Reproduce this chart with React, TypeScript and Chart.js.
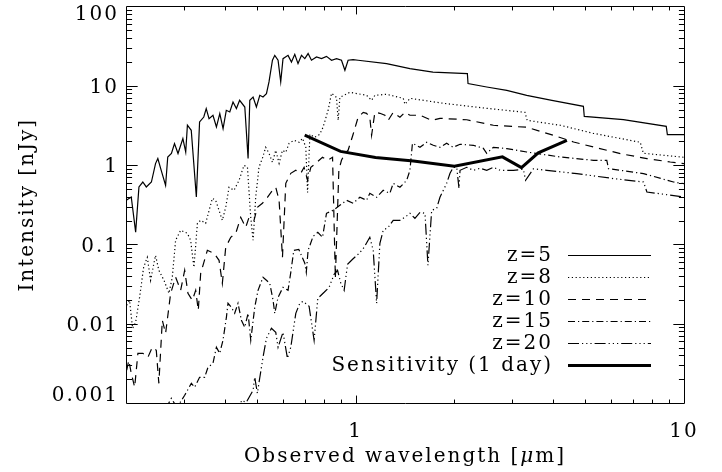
import React, { useEffect, useRef } from "react";
import { Chart, registerables } from "chart.js";

Chart.register(...registerables);

// ---------------- data (wavelength in micron, intensity in nJy) ----------------
const z5Wavelength = [0.2004,0.2075,0.214,0.219,0.225,0.2306,0.239,0.246,0.250,0.256,0.264,0.268,0.275,0.281,0.288,0.298,0.304,0.3076,0.316,0.3275,0.335,0.345,0.351,0.358,0.368,0.377,0.386,0.395,0.404,0.414,0.4235,0.4337,0.4436,0.46,0.4707,0.4764,0.4875,0.499,0.511,0.5226,0.5354,0.545,0.5584,0.5675,0.5808,0.5917,0.6013,0.6229,0.638,0.653,0.668,0.6845,0.7006,0.717,0.734,0.7605,0.7876,0.8156,0.845,0.875,0.906,0.928,0.949,0.983,1.018,1.243,1.464,1.72,2.19,2.2,2.508,2.887,3.32,3.96,4.94,4.97,6.54,8.83,8.9,10];
const z5Intensity = [0.36,0.396,0.143,0.53,0.612,0.53,0.612,1.045,1.21,0.86,0.556,1.265,1.40,1.87,1.40,2.16,1.46,3.18,2.75,0.396,3.50,4.04,5.16,3.86,4.25,3.02,4.46,2.89,4.91,4.67,6.25,5.16,6.56,5.4,1.21,6.56,7.22,5.4,7.59,7.22,7.97,11.2,21.0,24.2,21.0,11.2,22.0,24.2,19.95,24.96,19.05,24.2,22.0,25.5,21.0,23.1,22.0,23.5,21.0,22.0,21.0,15.7,21.0,21.4,21.0,19.05,16.5,14.9,14.25,10.66,9.66,8.77,7.59,6.56,5.51,4.12,3.75,3.08,2.42,2.42];

const z8Wavelength = [0.201,0.205,0.2095,0.214,0.220,0.2263,0.2322,0.2376,0.246,0.2518,0.261,0.2703,0.2767,0.2832,0.2934,0.3076,0.3146,0.322,0.33,0.3376,0.3496,0.3664,0.375,0.393,0.4024,0.4118,0.4266,0.4418,0.4574,0.4686,0.4795,0.4875,0.4966,0.508,0.5204,0.5325,0.545,0.5583,0.5715,0.585,0.599,0.6131,0.6274,0.65,0.673,0.6895,0.7056,0.7142,0.726,0.751,0.778,0.796,0.825,0.845,0.875,0.885,0.896,0.961,1.080,1.119,1.145,1.243,1.397,1.414,1.464,1.846,2.51,3.28,3.33,4.20,5.29,7.36,7.52,10];
const z8Intensity = [0.0171,0.0197,0.00875,0.0104,0.0215,0.0514,0.0687,0.0353,0.0729,0.0471,0.0353,0.0242,0.0385,0.1127,0.1507,0.138,0.1127,0.0514,0.1846,0.2014,0.1846,0.3814,0.360,0.2014,0.2937,0.525,0.481,0.643,0.994,0.938,0.2196,0.1127,0.3926,0.938,1.218,1.677,1.409,1.085,1.537,1.054,1.537,1.45,1.883,2.054,1.939,2.178,1.677,0.45,2.445,2.242,2.445,2.997,4.91,8.04,7.16,3.67,7.16,8.28,7.59,6.56,7.59,7.81,6.95,5.84,6.95,6.02,5.2,4.63,3.67,3.18,2.518,1.94,1.41,1.254];

const z10Wavelength = [0.201,0.204,0.2075,0.2125,0.2174,0.225,0.2332,0.2405,0.2473,0.2518,0.258,0.264,0.2735,0.2832,0.2934,0.3018,0.3088,0.3185,0.326,0.332,0.3376,0.3538,0.3707,0.384,0.393,0.4024,0.4168,0.4318,0.4471,0.4629,0.474,0.4907,0.5024,0.5204,0.539,0.5583,0.5715,0.585,0.599,0.6131,0.635,0.6577,0.681,0.697,0.7142,0.7307,0.7568,0.7931,0.8214,0.851,0.868,0.8894,0.906,0.928,0.949,0.981,1.018,1.055,1.080,1.105,1.119,1.145,1.186,1.228,1.257,1.302,1.365,1.413,1.464,1.571,1.705,1.807,2.18,2.628,3.32,4.005,4.61,5.30,6.4,7.71,9.08,10];
const z10Intensity = [0.00259,0.00346,0.00237,0.00158,0.00423,0.00423,0.00377,0.00504,0.00462,0.00177,0.01104,0.00757,0.02417,0.0385,0.02637,0.0471,0.02417,0.01973,0.02637,0.01476,0.0432,0.0842,0.0772,0.063,0.0323,0.0919,0.1229,0.138,0.2197,0.1643,0.2197,0.2014,0.2937,0.33,0.3926,0.481,0.525,0.36,0.0687,0.5895,0.788,0.86,0.788,0.938,0.643,0.938,1.054,1.254,1.15,1.254,0.0374,0.86,1.15,1.409,1.537,2.376,4.01,4.63,4.50,4.01,2.376,4.63,4.50,4.25,3.67,4.63,4.01,4.63,4.25,4.25,3.67,3.89,3.73,3.18,3.0,2.376,1.956,1.691,1.396,1.208,1.094,1.044];

const z15Wavelength = [0.2531,0.2748,0.2832,0.2913,0.3018,0.3162,0.3236,0.335,0.3471,0.3553,0.368,0.3769,0.3858,0.3948,0.4043,0.4089,0.4188,0.4285,0.4386,0.4492,0.4598,0.4707,0.4796,0.4932,0.5047,0.5226,0.5353,0.548,0.5608,0.5675,0.5808,0.6013,0.6229,0.635,0.6486,0.6716,0.7006,0.7079,0.717,0.7425,0.7674,0.7931,0.8156,0.8546,0.8956,0.9388,0.9833,1.0307,1.080,1.105,1.159,1.214,1.272,1.302,1.365,1.431,1.464,1.490,1.571,1.646,1.724,1.807,1.894,1.984,2.08,2.284,2.449,2.508,2.628,2.887,3.32,4.20,5.30,5.82,5.89,7.53,9.29,10];
const z15Intensity = [0.000605,0.001146,0.000935,0.000992,0.00125,0.00177,0.00158,0.00211,0.00211,0.00282,0.00317,0.00504,0.00423,0.00618,0.01204,0.01809,0.0161,0.01352,0.01809,0.01104,0.009,0.01352,0.00618,0.0161,0.02637,0.0385,0.03526,0.0323,0.01973,0.01352,0.02153,0.02877,0.02637,0.0445,0.0842,0.0867,0.0578,0.0445,0.0842,0.1265,0.142,0.1229,0.2466,0.2692,0.3112,0.36,0.33,0.3926,0.36,0.441,0.3926,0.481,0.441,0.5895,0.525,0.643,0.86,1.883,1.677,1.939,1.777,1.677,1.883,1.677,1.829,1.777,1.629,1.409,1.677,1.615,1.463,1.265,1.15,1.15,0.903,0.781,0.612,0.584];

const z20Wavelength = [0.4408,0.4492,0.465,0.4875,0.4932,0.5024,0.5106,0.5226,0.5353,0.5544,0.5715,0.5808,0.6013,0.6203,0.635,0.6577,0.6764,0.6921,0.7219,0.7478,0.7674,0.8023,0.8307,0.8605,0.8813,0.9019,0.9231,0.9453,0.9792,1.0256,1.0622,1.105,1.1316,1.159,1.186,1.214,1.257,1.302,1.365,1.413,1.464,1.516,1.571,1.627,1.661,1.705,1.766,1.807,1.85,1.894,1.939,1.984,2.032,2.065,2.08,2.18,2.284,2.393,2.508,2.628,2.754,3.023,3.243,3.294,3.479,3.822,4.72,6.10,7.53,7.71,10];
const z20Intensity = [0.000605,0.00108,0.00102,0.00145,0.00211,0.001326,0.00205,0.00377,0.00654,0.00875,0.00779,0.00504,0.00779,0.00366,0.00504,0.01352,0.01809,0.01916,0.01658,0.00618,0.0209,0.02489,0.02877,0.04198,0.0471,0.0323,0.02637,0.0561,0.0649,0.0772,0.0919,0.1229,0.0842,0.01809,0.1032,0.1507,0.1643,0.2014,0.2014,0.2197,0.2466,0.2134,0.254,0.2466,0.0545,0.2692,0.2852,0.3926,0.481,0.5895,0.788,0.938,0.938,0.51,0.86,0.938,0.86,0.911,0.86,0.938,0.86,0.86,0.885,0.643,0.898,0.86,0.781,0.676,0.612,0.458,0.396];

const sensitivityWavelength = [0.7, 0.9, 1.15, 1.5, 2.0, 2.8, 3.2, 3.6, 4.4];
const sensitivityIntensity = [2.38, 1.49, 1.25, 1.13, 0.97, 1.27, 0.93, 1.43, 2.05];

const seriesLabels = ["z=5", "z=8", "z=10", "z=15", "z=20", "Sensitivity (1 day)"];

const xTickValues = [1, 10];
const xTickLabels = ["1", "10"];
const yTickValues = [0.001, 0.01, 0.1, 1, 10, 100];
const yTickLabels = ["0.001", "0.01", "0.1", "1", "10", "100"];

const xAxisTitleParts = ["Observed wavelength [", "\u03bc", "m]"];
const yAxisTitle = "Intensity [nJy]";

// ---------------- styling ----------------
const FONT = '"DejaVu Serif", "Liberation Serif", serif';

function zip(xs: number[], ys: number[]) {
  const n = Math.min(xs.length, ys.length);
  const out: { x: number; y: number }[] = [];
  for (let i = 0; i < n; i++) out.push({ x: xs[i], y: ys[i] });
  return out;
}

const seriesDefs = [
  { xs: z5Wavelength, ys: z5Intensity, dash: [] as number[], width: 1.2 },
  { xs: z8Wavelength, ys: z8Intensity, dash: [1.2, 2.6], width: 1.2 },
  { xs: z10Wavelength, ys: z10Intensity, dash: [8, 6], width: 1.2 },
  { xs: z15Wavelength, ys: z15Intensity, dash: [7, 3, 1.2, 3], width: 1.2 },
  { xs: z20Wavelength, ys: z20Intensity, dash: [11, 3, 1.2, 3, 1.2, 3, 1.2, 3], width: 1.2 },
  { xs: sensitivityWavelength, ys: sensitivityIntensity, dash: [] as number[], width: 3 },
];

const decorPlugin = {
  id: "decor",
  beforeDraw(chart: any) {
    const ctx = chart.ctx;
    ctx.save();
    ctx.fillStyle = "#ffffff";
    ctx.fillRect(0, 0, chart.width, chart.height);
    ctx.restore();
    (ctx as any).letterSpacing = "2px";
  },
  afterDraw(chart: any) {
    const ctx = chart.ctx;
    const a = chart.chartArea;
    const xs = chart.scales.x;
    const ys = chart.scales.y;
    const L = Math.floor(a.left) + 0.5;
    const R = Math.floor(a.right) + 0.5;
    const T = Math.floor(a.top) + 0.5;
    const B = Math.floor(a.bottom) + 0.5;
    const W = a.right - a.left;
    const H = a.bottom - a.top;
    ctx.save();
    (ctx as any).letterSpacing = "2px";
    ctx.setLineDash([]);
    ctx.strokeStyle = "#000";
    ctx.lineWidth = 1;
    ctx.beginPath();
    ctx.rect(L, T, R - L, B - T);
    ctx.stroke();

    // tick marks on all four sides (pointing inwards)
    ctx.beginPath();
    for (let d = -1; d <= 0; d++) {
      for (let m = 1; m <= 9; m++) {
        const v = m * Math.pow(10, d);
        if (v <= 0.2 + 1e-9 || v >= 10 - 1e-9) continue;
        const px = Math.round(xs.getPixelForValue(v)) + 0.5;
        const len = m === 1 ? 0.02 * H : 0.01 * H;
        ctx.moveTo(px, B);
        ctx.lineTo(px, B - len);
        ctx.moveTo(px, T);
        ctx.lineTo(px, T + len);
      }
    }
    for (let d = -3; d <= 1; d++) {
      for (let m = 1; m <= 9; m++) {
        const v = m * Math.pow(10, d);
        if (v <= 0.001 * 1.0001 || v >= 100 * 0.9999) continue;
        const py = Math.round(ys.getPixelForValue(v)) + 0.5;
        const len = m === 1 ? 0.02 * W : 0.01 * W;
        ctx.moveTo(L, py);
        ctx.lineTo(L + len, py);
        ctx.moveTo(R, py);
        ctx.lineTo(R - len, py);
      }
    }
    ctx.stroke();

    // y tick labels (kept inside the axis extent at the ends)
    ctx.fillStyle = "#000";
    ctx.font = `20px ${FONT}`;
    ctx.textAlign = "right";
    ctx.textBaseline = "middle";
    yTickValues.forEach((v, i) => {
      const p = ys.getPixelForValue(v);
      const y = Math.min(Math.max(p + 2, a.top + 8.5), a.bottom - 7);
      ctx.fillText(yTickLabels[i], a.left - 7, y);
    });

    // x axis title with italic mu
    const styles = ["", "italic ", ""];
    const widths = xAxisTitleParts.map((t, i) => {
      ctx.font = `${styles[i]}20px ${FONT}`;
      return ctx.measureText(t).width;
    });
    const total = widths.reduce((s, w) => s + w, 0);
    let cx = (a.left + a.right) / 2 - total / 2;
    ctx.textAlign = "left";
    xAxisTitleParts.forEach((t, i) => {
      ctx.font = `${styles[i]}20px ${FONT}`;
      ctx.fillText(t, cx, 457);
      cx += widths[i];
    });

    // legend (text right-aligned, sample line on the right)
    ctx.font = `20px ${FONT}`;
    ctx.textAlign = "right";
    chart.data.datasets.forEach((ds: any, i: number) => {
      const y = 255 + 22 * i;
      ctx.fillText(ds.label, 553, y + 1);
      ctx.save();
      ctx.setLineDash(ds.borderDash || []);
      ctx.lineWidth = ds.borderWidth;
      ctx.beginPath();
      ctx.moveTo(568, y + 0.5);
      ctx.lineTo(651, y + 0.5);
      ctx.stroke();
      ctx.restore();
    });
    ctx.restore();
  },
};

export default function App() {
  const ref = useRef<HTMLCanvasElement | null>(null);
  useEffect(() => {
    const canvas = ref.current;
    if (!canvas) return;
    const datasets = seriesDefs.map((s, i) => ({
      label: seriesLabels[i],
      data: zip(s.xs, s.ys),
      borderColor: "#000",
      backgroundColor: "#000",
      borderWidth: s.width,
      borderDash: s.dash,
      pointRadius: 0,
      fill: false,
      tension: 0,
    }));
    const chart = new Chart(canvas, {
      type: "line",
      data: { datasets },
      options: {
        animation: false,
        responsive: false,
        maintainAspectRatio: false,
        devicePixelRatio: 1,
        events: [],
        layout: { padding: { left: 0, right: 38, top: 6.5, bottom: 0 } },
        plugins: { legend: { display: false }, tooltip: { enabled: false }, title: { display: false } },
        scales: {
          x: {
            type: "logarithmic",
            min: 0.2,
            max: 10,
            grid: { display: false, drawTicks: false },
            border: { display: false },
            afterBuildTicks: (scale: any) => {
              scale.ticks = xTickValues.map((v) => ({ value: v }));
            },
            afterFit: (scale: any) => {
              scale.height = 69;
              scale.paddingLeft = 0;
              scale.paddingRight = 0;
            },
            ticks: {
              autoSkip: false,
              maxRotation: 0,
              minRotation: 0,
              padding: 17,
              color: "#000",
              font: { family: FONT, size: 20 },
              callback: (v: any) => {
                const i = xTickValues.indexOf(Number(v));
                return i >= 0 ? xTickLabels[i] : "";
              },
            },
            title: { display: false },
          },
          y: {
            type: "logarithmic",
            min: 0.001,
            max: 100,
            grid: { display: false, drawTicks: false },
            border: { display: false },
            ticks: { display: false },
            afterFit: (scale: any) => {
              scale.width = 126;
              scale.paddingTop = 0;
              scale.paddingBottom = 0;
            },
            title: {
              display: true,
              text: yAxisTitle,
              color: "#000",
              font: { family: FONT, size: 20 },
              padding: { top: 16, bottom: 0 },
            },
          },
        },
      },
      plugins: [decorPlugin],
    } as any);
    return () => chart.destroy();
  }, []);
  return (
    <div style={{ position: "fixed", left: 0, top: 0, width: 722, height: 472, background: "#fff" }}>
      <canvas ref={ref} width={722} height={472} style={{ display: "block", width: 722, height: 472 }} />
    </div>
  );
}
